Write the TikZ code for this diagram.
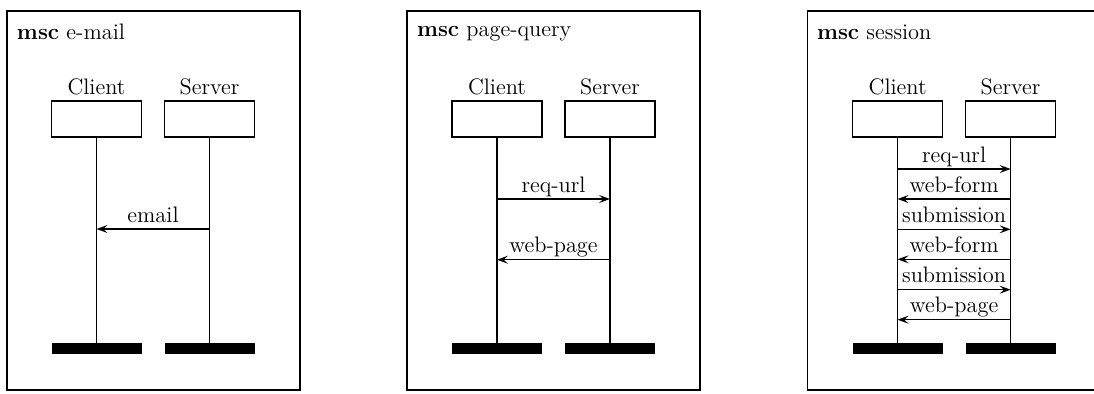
\documentclass[tikz,border=0pt]{standalone}
\usetikzlibrary{arrows.meta}
\tikzset{
  x=0.5pt, y=-0.5pt,
  every node/.style={font=\fontsize{11.2}{13}\selectfont, inner sep=0pt, outer sep=0pt},
  frame/.style={draw, line width=0.7pt},
  head/.style={draw, line width=0.7pt, minimum width=45pt, minimum height=18pt},
  endbar/.style={fill=black, minimum width=45pt, minimum height=5.75pt},
  life/.style={line width=0.7pt},
  msg/.style={line width=0.6pt, -{Stealth[length=5.5pt,width=4pt,inset=2.2pt]}},
  lbl/.style={anchor=base},
}
\newcommand{\mscinst}[2]{%
  \node[lbl] (#2cl) at (96.5+#1,94.5) {Client};
  \node[lbl] (#2sl) at (209.5+#1,94.5) {Server};
  \node[head] (#2c) at (96.5+#1,119) {};
  \node[head] (#2s) at (209.5+#1,119) {};
  \node[endbar] (#2ce) at (96.5+#1,348.4) {};
  \node[endbar] (#2se) at (209.5+#1,348.4) {};
  \draw[life] (#2c.south) -- (#2ce.north);
  \draw[life] (#2s.south) -- (#2se.north);
}
\begin{document}
\begin{tikzpicture}
\useasboundingbox (0,0) rectangle (1094,393);
\fill[white] (0,0) rectangle (1094,393);
% frame 1
\draw[frame] (7,11) rectangle (300,390);
\node[anchor=base west] (t1) at (17,39) {\textbf{msc} e-mail};
\mscinst{0}{a}
\draw[msg] (as |- 0,229) -- (ac |- 0,229);
\path (ac |- 0,222) -- node[lbl] (m1) {email} (as |- 0,222);
% frame 2
\draw[frame] (407,11) rectangle (700,390);
\node[anchor=base west] (t2) at (417,36) {\textbf{msc} page-query};
\mscinst{400.5}{b}
\draw[msg] (bc |- 0,199) -- (bs |- 0,199);
\path (bc |- 0,192) -- node[lbl] (m2) {req-url} (bs |- 0,192);
\draw[msg] (bs |- 0,259.7) -- (bc |- 0,259.7);
\path (bc |- 0,252.7) -- node[lbl] (m3) {web-page} (bs |- 0,252.7);
% frame 3
\draw[frame] (807.3,11) rectangle (1110,390);
\node[anchor=base west] (t3) at (817,39) {\textbf{msc} session};
\mscinst{801.1}{c}
\draw[msg] (cc |- 0,169) -- (cs |- 0,169);
\path (cc |- 0,162) -- node[lbl] (n1) {req-url} (cs |- 0,162);
\draw[msg] (cs |- 0,199) -- (cc |- 0,199);
\path (cc |- 0,192) -- node[lbl] (n2) {web-form} (cs |- 0,192);
\draw[msg] (cc |- 0,229.3) -- (cs |- 0,229.3);
\path (cc |- 0,222.3) -- node[lbl] (n3) {submission} (cs |- 0,222.3);
\draw[msg] (cs |- 0,259.3) -- (cc |- 0,259.3);
\path (cc |- 0,252.3) -- node[lbl] (n4) {web-form} (cs |- 0,252.3);
\draw[msg] (cc |- 0,289.7) -- (cs |- 0,289.7);
\path (cc |- 0,282.7) -- node[lbl] (n5) {submission} (cs |- 0,282.7);
\draw[msg] (cs |- 0,319.7) -- (cc |- 0,319.7);
\path (cc |- 0,312.7) -- node[lbl] (n6) {web-page} (cs |- 0,312.7);
\end{tikzpicture}
\end{document}
